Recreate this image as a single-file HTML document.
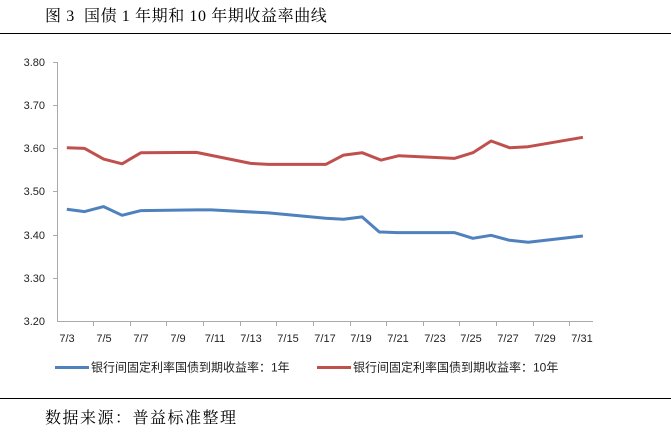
<!DOCTYPE html>
<html><head><meta charset="utf-8"><style>
body{margin:0;background:#fff;width:671px;height:436px;overflow:hidden;position:relative;font-family:"Liberation Serif","Noto Serif CJK SC",serif}
.t{position:absolute;left:45px;top:3px;font-size:16px;letter-spacing:0.6px;color:#000;white-space:pre}
.s{position:absolute;left:45px;top:405px;font-size:16px;letter-spacing:1.5px;color:#000}
.hl{position:absolute;left:0;width:671px;height:1px;background:#000}
svg{position:absolute;left:0;top:0}
svg text{font-family:"Liberation Sans","Noto Sans CJK SC",sans-serif;font-size:11px;fill:#222}
</style></head><body>
<div class="t">图 3  国债 1 年期和 10 年期收益率曲线</div>
<div class="hl" style="top:33px"></div>
<div class="hl" style="top:398px"></div>
<div class="s">数据来源：普益标准整理</div>
<svg width="671" height="436">
<g stroke="#aaa" stroke-width="1">
<line x1="57.5" y1="62" x2="57.5" y2="322"/>
<line x1="57" y1="321.5" x2="593" y2="321.5"/>
<line x1="53" y1="62.5" x2="57" y2="62.5"/><line x1="53" y1="105.5" x2="57" y2="105.5"/>
<line x1="53" y1="148.5" x2="57" y2="148.5"/><line x1="53" y1="191.5" x2="57" y2="191.5"/>
<line x1="53" y1="235.5" x2="57" y2="235.5"/><line x1="53" y1="278.5" x2="57" y2="278.5"/>
</g>
<g stroke="#aaa">
<line x1="93.5" y1="322" x2="93.5" y2="326"/><line x1="130.5" y1="322" x2="130.5" y2="326"/><line x1="166.5" y1="322" x2="166.5" y2="326"/><line x1="203.5" y1="322" x2="203.5" y2="326"/><line x1="240.5" y1="322" x2="240.5" y2="326"/><line x1="276.5" y1="322" x2="276.5" y2="326"/><line x1="313.5" y1="322" x2="313.5" y2="326"/><line x1="350.5" y1="322" x2="350.5" y2="326"/><line x1="386.5" y1="322" x2="386.5" y2="326"/><line x1="423.5" y1="322" x2="423.5" y2="326"/><line x1="459.5" y1="322" x2="459.5" y2="326"/><line x1="496.5" y1="322" x2="496.5" y2="326"/><line x1="533.5" y1="322" x2="533.5" y2="326"/><line x1="569.5" y1="322" x2="569.5" y2="326"/>
</g>
<g text-anchor="end">
<text x="45" y="66">3.80</text><text x="45" y="109">3.70</text><text x="45" y="152">3.60</text><text x="45" y="195">3.50</text><text x="45" y="239">3.40</text><text x="45" y="282">3.30</text><text x="45" y="325">3.20</text>
</g>
<g text-anchor="middle" style="font-size:12px">
<text x="67" y="342">7/3</text><text x="104" y="342">7/5</text><text x="141" y="342">7/7</text><text x="178" y="342">7/9</text><text x="215" y="342">7/11</text><text x="251" y="342">7/13</text><text x="288" y="342">7/15</text><text x="325" y="342">7/17</text><text x="361" y="342">7/19</text><text x="398" y="342">7/21</text><text x="435" y="342">7/23</text><text x="471" y="342">7/25</text><text x="508" y="342">7/27</text><text x="545" y="342">7/29</text><text x="582" y="342">7/31</text>
</g>
<polyline fill="none" stroke="#c0504d" stroke-width="3" stroke-linejoin="round" points="66.8,147.7 84.6,148.4 103.6,159.1 122.1,163.8 141,152.7 196.4,152.4 250.7,163.4 268.6,164.4 325.7,164.4 343.6,155.1 362.1,152.7 381.1,160.1 398.9,155.7 454.3,158.4 472.9,152.7 491.1,141 509.6,147.7 528.2,146.7 582.9,137.3"/>
<polyline fill="none" stroke="#4f81bd" stroke-width="3" stroke-linejoin="round" points="66.8,209.3 84.6,211.6 103.6,206.6 122.1,215.3 141,210.6 196.4,209.9 211.4,209.9 268.6,212.9 325.7,218.3 343.6,219.3 362.1,216.9 379.3,232 397.1,232.6 454.3,232.6 472.9,238.3 491.1,235.3 509.6,240.3 528.2,242.3 582.9,236"/>
<line x1="55" y1="367.5" x2="89" y2="367.5" stroke="#4f81bd" stroke-width="3"/>
<text x="91" y="371.5" style="font-size:12px">银行间固定利率国债到期收益率：1年</text>
<line x1="317" y1="367.5" x2="351" y2="367.5" stroke="#c0504d" stroke-width="3"/>
<text x="353" y="371.5" style="font-size:12px">银行间固定利率国债到期收益率：10年</text>
</svg>
</body></html>
